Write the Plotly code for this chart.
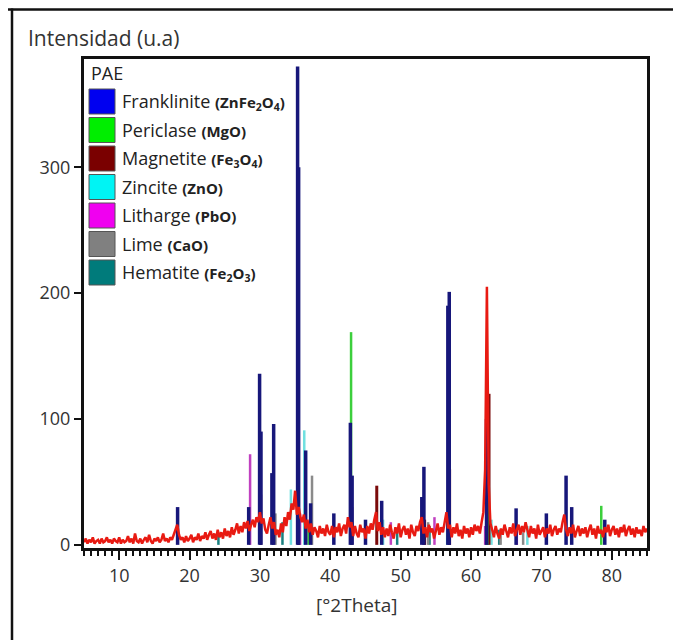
import plotly.graph_objects as go

# ---------------- data ----------------
theta_start = 5.0
theta_step = 0.25
measured = [
    # 5 - 17
    2, 5, 1, 4, 2, 6, 1, 3, 4, 1, 5, 2, 3, 6, 2, 4, 1, 5, 3, 2, 6, 1, 4, 2,
    3, 7, 2, 5, 1, 9, 3, 2, 5, 1, 4, 6, 2, 8, 3, 1, 5, 3, 6, 2, 4, 9, 3, 5,
    # 17 - 19
    2, 6, 4, 8, 12, 16, 8, 4,
    # 19 - 22
    6, 2, 7, 3, 5, 8, 2, 6, 4, 9, 3, 7,
    # 22 - 26
    5, 10, 4, 8, 11, 5, 9, 4, 12, 6, 10, 5, 13, 7, 11, 6,
    # 26 - 30
    14, 8, 12, 17, 9, 15, 10, 18, 13, 19, 11, 16, 20, 14, 22, 18,
    # 30 - 34
    26, 17, 21, 12, 9, 16, 22, 13, 18, 8, 12, 6, 17, 10, 22, 15,
    # 34 - 36
    26, 20, 33, 28, 43, 24, 30, 22,
    # 36 - 40
    18, 24, 13, 20, 10, 17, 8, 14, 11, 6, 15, 9, 13, 7, 16, 10,
    # 40 - 44
    8, 15, 6, 14, 10, 17, 7, 13, 16, 9, 22, 14, 18, 7, 15, 9,
    # 44 - 48
    6, 16, 10, 13, 5, 15, 9, 17, 12, 20, 26, 11, 18, 8, 14, 6,
    # 48 - 52
    13, 7, 16, 10, 5, 14, 9, 17, 6, 12, 15, 8, 13, 5, 16, 10,
    # 52 - 56
    7, 15, 11, 18, 22, 9, 14, 6, 16, 10, 13, 5, 11, 17, 8, 14,
    # 56 - 60
    10, 18, 26, 13, 16, 6, 14, 9, 17, 7, 12, 5, 15, 9, 13, 6,
    # 60 - 64
    14, 8, 16, 11, 15, 9, 18, 26, 60, 205, 48, 17, 12, 6, 15, 9,
    # 64 - 68
    5, 13, 8, 16, 11, 6, 14, 9, 17, 7, 12, 16, 8, 15, 10, 18,
    # 68 - 72
    12, 6, 15, 9, 13, 5, 16, 8, 11, 14, 6, 13, 9, 16, 7, 12,
    # 72 - 76
    15, 8, 13, 10, 18, 24, 12, 7, 14, 9, 16, 6, 11, 15, 7, 13,
    # 76 - 80
    9, 14, 6, 12, 16, 8, 13, 5, 15, 9, 12, 6, 14, 10, 16, 7,
    # 80 - 85
    12, 15, 8, 13, 6, 14, 10, 16, 7, 12, 15, 8, 13, 6, 14, 9, 12, 7, 15, 10, 13,
]

phase_names = ["Franklinite", "Periclase", "Magnetite", "Zincite", "Litharge", "Lime", "Hematite"]
phase_formulas = ["ZnFe<sub>2</sub>O<sub>4</sub>", "MgO", "Fe<sub>3</sub>O<sub>4</sub>", "ZnO",
                  "PbO", "CaO", "Fe<sub>2</sub>O<sub>3</sub>"]

franklinite_theta = [18.3, 28.4, 29.95, 30.15, 31.7, 31.95, 35.35, 35.5, 36.5, 37.2, 40.5, 42.85, 43.1,
                     45.0, 47.3, 53.0, 53.3, 56.7, 56.9, 62.2, 66.4, 70.7, 73.5, 74.3, 79.0]
franklinite_int = [30, 30, 136, 90, 57, 96, 380, 300, 75, 33, 25, 97, 55,
                   20, 35, 38, 62, 190, 201, 100, 29, 25, 55, 30, 20]
periclase_theta = [36.9, 42.95, 62.3, 78.5]
periclase_int = [15, 169, 97, 31]
magnetite_theta = [30.1, 35.45, 43.05, 46.6, 53.4, 56.95, 62.55]
magnetite_int = [40, 120, 30, 47, 20, 60, 120]
zincite_theta = [31.8, 34.4, 36.3, 47.5, 56.6, 62.9, 68.0]
zincite_int = [30, 44, 91, 20, 25, 20, 15]
litharge_theta = [28.6, 31.9, 35.7, 48.6, 54.8, 62.0, 66.5]
litharge_int = [72, 20, 25, 18, 22, 15, 15]
lime_theta = [32.2, 37.4, 53.9, 64.2, 67.4]
lime_int = [25, 55, 18, 12, 10]
hematite_theta = [24.1, 33.2, 35.6, 49.5, 54.1, 62.4, 64.0]
hematite_int = [8, 18, 15, 12, 15, 12, 12]

x_ticks = [10, 20, 30, 40, 50, 60, 70, 80]
y_ticks = [0, 100, 200, 300]

# ---------------- styling ----------------
square_colors = ["#0000f0", "#00ee00", "#7a0000", "#00f4f4", "#f000f0", "#808080", "#007b7b"]
stick_colors = ["#17177a", "#3ccf3c", "#7a0a0a", "#70e0e0", "#c040c0", "#8a8a8a", "#1a8080"]
stick_widths = [3.5, 2.5, 3, 2.5, 2.5, 2.5, 2.5]

L, R, T, B = 84, 647, 59, 548


def px(x):
    return (x - L) / (R - L)


def py(y):
    return (B - y) / (B - T)


phase_data = [
    (franklinite_theta, franklinite_int),
    (periclase_theta, periclase_int),
    (magnetite_theta, magnetite_int),
    (zincite_theta, zincite_int),
    (litharge_theta, litharge_int),
    (lime_theta, lime_int),
    (hematite_theta, hematite_int),
]

fig = go.Figure()

draw_order = [6, 5, 4, 3, 2, 1, 0]
for i in draw_order:
    th, it = phase_data[i]
    xs, ys = [], []
    for t, v in zip(th, it):
        xs += [t, t, None]
        ys += [0, v, None]
    fig.add_trace(go.Scatter(x=xs, y=ys, mode="lines", name=phase_names[i],
                             line=dict(color=stick_colors[i], width=stick_widths[i]),
                             showlegend=False, hoverinfo="skip"))

meas_x = [theta_start + k * theta_step for k in range(len(measured))]
fig.add_trace(go.Scatter(x=meas_x, y=measured, mode="lines", name="PAE",
                         line=dict(color="#e81a12", width=2.5, simplify=False), showlegend=False))

shapes = []
annotations = []

# legend (custom)
annotations.append(dict(x=px(89), y=py(73), xref="paper", yref="paper", text="PAE",
                        showarrow=False, xanchor="left", yanchor="middle",
                        font=dict(size=18, color="#222")))
for i, (nm, fm) in enumerate(zip(phase_names, phase_formulas)):
    cy = 101.5 + 28.5 * i
    shapes.append(dict(type="rect", xref="paper", yref="paper",
                       x0=px(89), x1=px(115), y0=py(cy + 12.5), y1=py(cy - 12.5),
                       fillcolor=square_colors[i], line=dict(color="#555", width=1)))
    annotations.append(dict(x=px(120), y=py(cy), xref="paper", yref="paper",
                            text=f"{nm} <span style='font-size:15px'><b>({fm})</b></span>",
                            showarrow=False, xanchor="left", yanchor="middle",
                            font=dict(size=18, color="#222")))

# titles
annotations.append(dict(x=px(26), y=py(38), xref="paper", yref="paper", text="Intensidad (u.a)",
                        showarrow=False, xanchor="left", yanchor="middle",
                        font=dict(size=21, color="#333")))
annotations.append(dict(x=px(357), y=py(605), xref="paper", yref="paper", text="[°2Theta]",
                        showarrow=False, xanchor="center", yanchor="middle",
                        font=dict(size=19, color="#333")))

# outer frame (top and left)
shapes.append(dict(type="line", xref="paper", yref="paper", x0=px(8), x1=px(680),
                   y0=py(9.5), y1=py(9.5), line=dict(color="#111", width=2.5)))
shapes.append(dict(type="line", xref="paper", yref="paper", x0=px(12), x1=px(12),
                   y0=py(8.5), y1=py(650), line=dict(color="#111", width=2.5)))

fig.update_layout(
    width=673, height=640,
    margin=dict(l=L, r=673 - R, t=T, b=640 - B),
    paper_bgcolor="white", plot_bgcolor="white",
    font=dict(family="Open Sans, Noto Sans, sans-serif", color="#333"),
    shapes=shapes, annotations=annotations,
    showlegend=False,
)
fig.update_xaxes(range=[5, 85], tickvals=x_ticks, ticks="outside", ticklen=9, tickwidth=2,
                 tickcolor="#111", showline=True, linewidth=3, linecolor="#111", mirror=True,
                 showgrid=False, zeroline=False, tickfont=dict(size=18, color="#333"),
                 minor=dict(dtick=1, tick0=5, ticks="outside", ticklen=5, tickwidth=1.5, tickcolor="#111"))
fig.update_yaxes(range=[-2.5, 386], tickvals=y_ticks, ticks="outside", ticklen=7, tickwidth=2,
                 tickcolor="#111", showline=True, linewidth=3, linecolor="#111", mirror=True,
                 showgrid=False, zeroline=False, tickfont=dict(size=18, color="#333"))

fig.write_html("out.html")
